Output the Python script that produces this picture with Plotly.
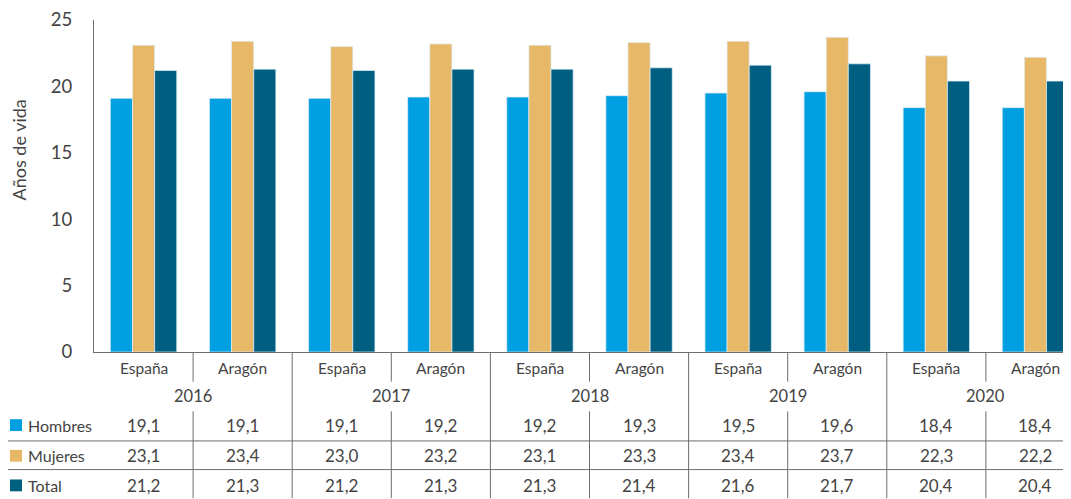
import plotly.graph_objects as go

years = ["2016", "2017", "2018", "2019", "2020"]
regions = ["España", "Aragón"]
series_names = ["Hombres", "Mujeres", "Total"]
hombres = [19.1, 19.1, 19.1, 19.2, 19.2, 19.3, 19.5, 19.6, 18.4, 18.4]
mujeres = [23.1, 23.4, 23.0, 23.2, 23.1, 23.3, 23.4, 23.7, 22.3, 22.2]
total = [21.2, 21.3, 21.2, 21.3, 21.3, 21.4, 21.6, 21.7, 20.4, 20.4]
colors = ["#009fe1", "#e7b868", "#005f80"]
y_ticks = [0, 5, 10, 15, 20, 25]

FONT = "Lato"
TXT = "#444444"
LINE = "#6e6e6e"

cats = [r for y in years for r in regions]
xs = list(range(len(cats)))
values = [hombres, mujeres, total]

fig = go.Figure()
for name, vals, col in zip(series_names, values, colors):
    fig.add_trace(go.Bar(x=xs, y=vals, name=name, marker_color=col,
                         marker_line=dict(color="rgba(225,238,246,0.9)", width=0.8),
                         showlegend=False))

OFF = 8  # page body margin
WIN_W, WIN_H = 1071, 499
PLOT_L, PLOT_T, PLOT_B = 94, 16, 352  # in window pixels
W, H = WIN_W - OFF, WIN_H - OFF
L, T = PLOT_L - OFF, PLOT_T - OFF
B = H - (PLOT_B - OFF)
ph = PLOT_B - PLOT_T
pw = WIN_W - PLOT_L


def py(pix):
    return (PLOT_B - pix) / ph


def px(pix):
    return (pix - PLOT_L) / pw


shapes = []
ann = []

# region labels
for i, c in enumerate(cats):
    ann.append(dict(x=i, y=py(368), xref="x", yref="paper", text=c, showarrow=False,
                    font=dict(family=FONT, size=15.5, color=TXT), yanchor="middle"))
# year labels
for j, yr in enumerate(years):
    ann.append(dict(x=2 * j + 0.5, y=py(397), xref="x", yref="paper", text=yr, showarrow=False,
                    font=dict(family=FONT, size=16.5, color=TXT), yanchor="middle"))

# separators
for i in range(len(cats) - 1):
    xpos = i + 0.5
    if i % 2 == 0:
        shapes.append(dict(type="line", xref="x", yref="paper", x0=xpos, x1=xpos,
                           y0=py(352), y1=py(382), line=dict(color=LINE, width=1)))
        shapes.append(dict(type="line", xref="x", yref="paper", x0=xpos, x1=xpos,
                           y0=py(412), y1=py(500), line=dict(color=LINE, width=1)))
    else:
        shapes.append(dict(type="line", xref="x", yref="paper", x0=xpos, x1=xpos,
                           y0=py(352), y1=py(500), line=dict(color=LINE, width=1)))

# horizontal row lines
for yy in [442, 471]:
    shapes.append(dict(type="line", xref="paper", yref="paper", x0=px(5), x1=1,
                       y0=py(yy), y1=py(yy), line=dict(color=LINE, width=1)))

# table rows
row_y = [426, 457, 487]
for name, vals, col, ry in zip(series_names, values, colors, row_y):
    shapes.append(dict(type="rect", xref="paper", yref="paper", x0=px(10), x1=px(22),
                       y0=py(ry - 6), y1=py(ry + 6), fillcolor=col, line=dict(width=0)))
    ann.append(dict(x=px(26), y=py(ry), xref="paper", yref="paper", text=name, showarrow=False,
                    xanchor="left", yanchor="middle", font=dict(family=FONT, size=16, color=TXT)))
    for i, v in enumerate(vals):
        ann.append(dict(x=i, y=py(ry), xref="x", yref="paper", text=f"{v:.1f}".replace(".", ","),
                        showarrow=False, yanchor="middle",
                        font=dict(family=FONT, size=17, color=TXT)))

# y-axis title
ann.append(dict(x=px(19), y=py(148), xref="paper", yref="paper", text="Años de vida",
                textangle=-90, showarrow=False, xanchor="center", yanchor="middle",
                font=dict(family=FONT, size=18, color=TXT)))

fig.update_layout(
    width=W, height=H,
    margin=dict(l=L, r=0, t=T, b=B, pad=0),
    paper_bgcolor="white", plot_bgcolor="white",
    barmode="group", bargap=0.33, bargroupgap=0,
    shapes=shapes, annotations=ann,
    xaxis=dict(range=[-0.5, -0.5 + pw / 99.1], showticklabels=False, ticks="",
               showgrid=False, zeroline=False, showline=True, linecolor=LINE, linewidth=1.2),
    yaxis=dict(range=[0, 25], tickvals=y_ticks, showgrid=False, zeroline=False,
               showline=True, linecolor=LINE, linewidth=1.2, ticks="",
               ticklabelstandoff=17, ticklabeloverflow="allow",
               tickfont=dict(family=FONT, size=18.5, color=TXT)),
)

fig.write_html("out.html")
